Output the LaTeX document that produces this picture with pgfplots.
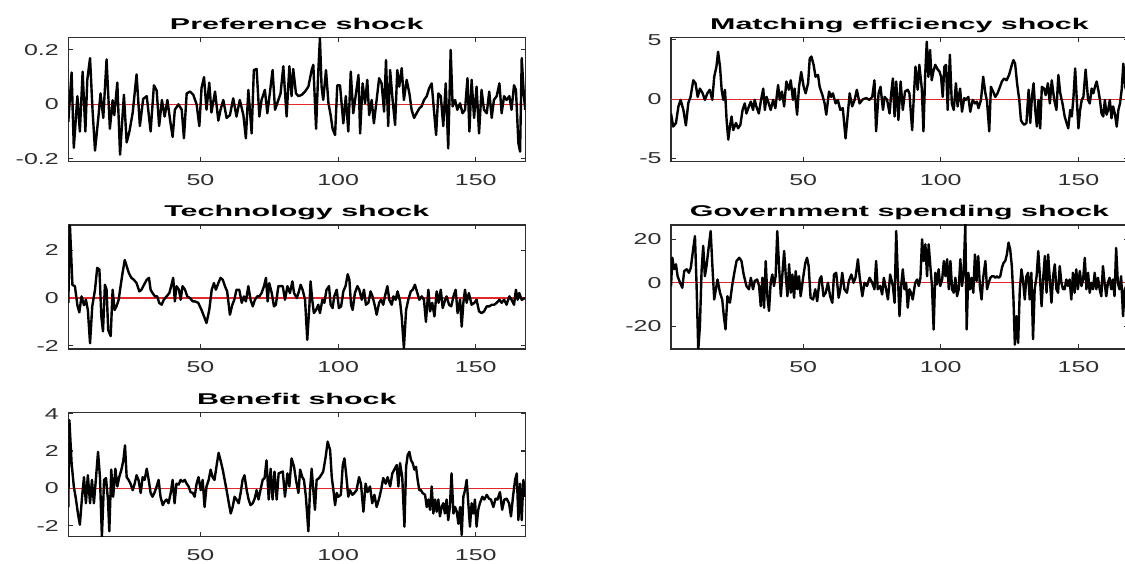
\documentclass[border=0pt]{standalone}
\usepackage{fontspec}
\usepackage{pgfplots}
\pgfplotsset{compat=1.18}
\newfontfamily\tickfont[FakeStretch=1.58]{Liberation Sans}
\newfontfamily\titlefont[FakeStretch=1.95]{Liberation Sans}
\definecolor{axgray}{gray}{0.18}
\definecolor{zred}{RGB}{228,40,40}
\pgfplotsset{
 shockax/.style={
  scale only axis, width=457pt, height=124pt, anchor=south west,
  xmin=2, xmax=168, xtick={50,100,150},
  tick align=inside, major tick length=4.5pt,
  axis line style={axgray, line width=1.1pt},
  every tick/.style={axgray, line width=1.1pt},
  ticklabel style={font=\fontsize{15.8}{18}\selectfont\tickfont, text=axgray},
  /pgf/number format/assume math mode=true,
  xticklabel style={yshift=-9pt},
  yticklabel style={xshift=-6pt},
  title style={font=\fontsize{15.6}{18}\selectfont\titlefont\bfseries, at={(0.5,1)}, anchor=base, yshift=2pt},
 },
 zline/.style={zred, line width=1.4pt, forget plot},
 sline/.style={black, line width=2.4pt, line join=round},
}
\begin{document}
\begin{tikzpicture}
% Preference shock
\begin{axis}[shockax, at={(68.3pt,402.3pt)}, ymin=-0.211, ymax=0.245, ytick={-0.2,0,0.2}, title={Preference shock}]
\addplot[zline] coordinates {(2,0) (168,0)};
\addplot[sline] coordinates {
(2,-0.064) (3.2,0.117) (4,-0.16) (5.3,0.03) (6.2,-0.10) (7.2,0.12) (8.2,-0.10) (8.9,0.09) (9.9,0.17) (10.8,-0.02) (11.7,-0.17) (12.9,-0.05) (13.7,0.04) (14.7,-0.05) (15.9,0.165) (17.1,-0.09) (18.1,0.015) (18.7,-0.04) (19.8,0.08) (20.8,-0.185) (22.2,0.035) (23.2,-0.14) (24.2,-0.10) (25.4,-0.03) (26.8,0.11) (28,-0.08) (29.2,0.02) (30.5,0.03) (31.9,-0.10) (33.1,0.07) (34.1,0.05) (35,-0.08) (36,0.016) (37,-0.045) (38,0.016) (39,-0.06) (39.9,-0.12) (40.7,-0.02) (42,0.00) (43.2,-0.02) (44,-0.125) (45,0.04) (46.2,0.047) (47.4,0.035) (48.6,0.0) (49.6,-0.08) (50.4,0.06) (51.3,0.10) (52.2,-0.02) (53.2,0.08) (54,-0.03) (55.3,0.047) (56.5,-0.06) (57.3,-0.02) (58.3,0.016) (59.5,-0.05) (60.7,-0.04) (61.9,0.022) (63.1,-0.045) (64.3,0.016) (65.6,-0.04) (66.5,-0.125) (67.4,0.053) (68.6,-0.107) (69.4,0.126) (70.4,0.13) (71.4,-0.045) (72.2,0.016) (73.4,0.053) (74.3,-0.033) (75.2,0.04) (76.2,0.126) (77.1,-0.02) (78.3,0.016) (79.1,0.04)
(80.1,0.14) (81.3,-0.045) (82.3,0.14) (83.1,0.03) (83.7,0.13) (84.7,0.04) (85.6,0.03) (86.8,0.035) (88,0.047) (89.2,0.065) (90.4,0.126) (91,0.145) (92,-0.09) (92.8,0.12) (93.4,0.243) (94,0.065) (94.6,0.016) (95.6,0.126) (96.5,0.004) (97.3,-0.04) (98,-0.09) (98.9,-0.113) (99.7,0.07) (100.7,0.07) (101.9,-0.07) (102.8,0.03) (103.7,-0.10) (104.6,0.12) (105.5,-0.033) (106.5,0.04) (107.4,0.108) (108,-0.107) (108.9,0.077) (109.8,0.004) (110.6,0.09) (111.3,-0.04) (112.2,0.016) (113,-0.07) (114,0.016) (114.9,0.096) (115.8,0.077) (116.7,-0.027) (117.4,0.163) (118.2,-0.08) (118.9,0.126) (119.8,0.016) (120.7,-0.076) (121.5,0.126) (122.2,0.065) (123.1,0.133) (123.9,0.016) (124.9,0.09) (125.9,0.04) (126.7,-0.02) (127.6,-0.05) (128.5,-0.033) (129.5,-0.015) (130.3,-0.008) (131.2,0.016) (132.2,0.03) (133.1,0.06) (134,0.077) (134.8,-0.02) (135.6,-0.113) (136.4,0.04) (137.3,0.03) (138.2,-0.08) (139.1,0.077) (140,-0.162) (140.9,0.2) (141.6,-0.008) (142.5,0.016) (143.3,-0.02) (144.3,0.004) (145.2,-0.033) (146.1,-0.02) (147,0.096) (147.7,-0.10) (148.5,0.09) (149.4,-0.05) (150.3,0.065) (151.2,-0.107) (152.1,0.053) (153,-0.02) (154,-0.033) (154.9,0.047) (155.8,-0.05) (156.6,0.016) (157.6,0.03) (158.6,0.077) (159.4,-0.033) (160.3,0.03) (161.2,0.016) (162.2,0.03) (163,-0.02) (163.9,0.07) (164.6,0.053) (165.5,-0.144) (166.1,-0.174) (166.7,0.17) (167.5,0.03) (168,-0.02)
};
\end{axis}
% Matching efficiency shock
\begin{axis}[shockax, at={(671pt,402.3pt)}, ymin=-5.26, ymax=5.19, ytick={-5,0,5}, title={Matching efficiency shock}]
\addplot[zline] coordinates {(2,0) (168,0)};
\addplot[sline] coordinates {
(2,-1.2) (2.8,-2.3) (3.8,-2.0) (4.7,-0.6) (5.5,-0.05) (6.5,-0.9) (7.4,-2.2) (8.3,-0.3) (9.1,0.2) (10.1,1.6) (10.9,1.35) (11.7,0.2) (12.5,0.9) (13.5,0.5) (14.3,-0.05) (15.2,0.5) (16.1,0.8) (17,-0.05) (17.7,1.9) (18.5,2.75) (19.1,4.0) (19.8,2.75) (20.4,0.8) (21,-0.05) (21.6,0.8) (22.2,-1.75) (22.8,-3.4) (23.4,-2.3) (24,-1.45) (24.6,-2.6) (25.6,-2.0) (26.4,-2.45) (27.2,-2.15) (28,-0.9) (28.8,-0.35) (29.4,-1.2) (30.3,-0.6) (31,-0.2) (31.8,-0.9) (32.4,-0.05) (33,-0.6) (33.9,-1.2) (34.6,-0.2) (35.5,0.9) (36.1,-0.9) (36.7,0.2) (37.5,-0.35) (38.2,-0.9) (39.1,-0.05) (39.9,-0.75) (40.9,1.2) (41.5,-0.05) (42.3,0.65) (43.1,-0.6) (43.9,1.5) (44.8,0.8) (45.5,1.6) (46.3,-0.05) (46.9,0.9) (47.8,-1.3) (48.5,1.05) (49.3,2.3) (50.2,1.05) (50.9,0.5) (51.8,1.35) (52.4,3.45) (53,3.6) (53.8,2.9) (54.5,1.9) (55.4,2.05) (56,1.05) (57,0.35) (57.8,-0.35) (58.4,-1.3) (59.4,0.65) (60.2,0.2) (60.8,0.5) (61.8,-0.35) (62.6,-0.05) (63.5,-0.9) (64.4,-0.75) (65.4,-3.3) (66.3,-1.05) (66.9,0.5) (67.8,-0.6) (68.7,-0.05) (69.5,0.8) (70.5,-0.35)
(71.7,0) (72.9,0.1) (74.1,-0.05) (75.1,0.2) (75.9,1.6) (76.5,-2.7) (77.4,0.5) (78.1,1.05) (79,-0.9) (79.6,0.2) (80.5,-0.05) (81.4,-1.2) (82,0.5) (82.6,1.75) (83.2,-1.45) (83.8,1.5) (84.6,-1.75) (85.4,1.5) (86.2,-0.9) (87,0.65) (88,0.8) (88.6,0.5) (89.6,-2.6) (90.2,0.2) (90.8,2.75) (91.6,0.8) (92.2,2.9) (93.1,0.9) (93.7,-2.7) (94.3,1.9) (94.9,4.85) (95.5,1.9) (96.1,4.15) (96.7,1.6) (97.3,2.35) (98,2.9) (98.9,2.5) (99.5,2.35) (100.1,1.9) (100.7,0.2) (101.3,2.75) (101.9,2.9) (102.5,-0.9) (103.3,3.75) (104,-0.35) (104.7,-0.9) (105.5,1.35) (106.1,-0.6) (107,0.9) (107.7,-1.05) (108.5,0.1) (109.1,-0.05) (110,0.2) (110.7,-1.05) (111.6,-0.05) (112.4,-0.35) (113.1,-0.2) (113.7,-0.75) (114.6,-0.05) (115.4,1.9) (116.2,0.5) (116.8,-0.2) (117.6,-2.7) (118.2,1.05) (119,0.65) (119.8,0.2) (120.6,0.5) (121.5,1.05) (122.2,1.5) (123,1.75) (123.9,1.6) (124.8,2.05) (125.8,2.9) (126.4,3.3) (127,3.0) (127.7,1.35) (128.5,-0.05) (129.1,-1.75) (129.7,-2.0) (130.3,-2.15) (131.1,-2.0) (131.9,0.8) (132.5,-2.0) (133.1,0.2) (133.7,1.35) (134.3,-0.9) (134.9,-2.3) (135.5,-0.05) (136.1,-2.45) (136.7,1.05) (137.5,0.9) (138.1,0.35) (138.9,1.35) (139.6,-0.35) (140.3,1.6) (141.2,-0.05) (142,-0.9) (142.7,2.05) (143.4,0.5) (144.2,-0.35) (145,-1.45) (145.7,-2.0) (146.3,-2.45) (147,-0.9) (147.6,-1.45) (148.2,0.2) (148.8,2.6) (149.4,-0.05) (150,-2.45) (150.6,-0.9) (151.2,-0.05) (151.8,0.2) (152.6,2.5) (153.5,-0.05) (154.1,-0.35) (154.8,0.9) (155.4,0.5) (156,1.05) (156.6,1.5) (157.2,0.8) (157.8,-0.05) (158.4,-1.2) (159,-1.45) (159.6,-0.05) (160.2,-1.3) (160.8,-0.9) (161.4,-0.05) (162,-1.6) (162.6,-0.6) (163.3,-1.3) (163.9,-2.3) (164.5,-0.9) (165.1,-0.35) (165.7,0.8) (166.3,3.0) (167,1.0) (168,0.5)
};
\end{axis}
% Technology shock
\begin{axis}[shockax, at={(68.3pt,215pt)}, ymin=-2.14, ymax=3.07, ytick={-2,0,2}, title={Technology shock}]
\addplot[zline] coordinates {(2,0) (168,0)};
\addplot[sline] coordinates {
(2,-0.2) (2.6,3.05) (3.5,0.55) (4.4,0.5) (5.3,-0.3) (6,-0.6) (6.8,0.07) (7.7,-0.3) (8.4,-0.07) (9.1,-0.5) (9.9,-1.9) (10.7,-0.35) (11.7,0.35) (12.5,1.27) (13.3,1.2) (14,-0.77) (14.6,-1.4) (15.3,0.56) (15.9,0.35) (16.5,-1.34) (17.4,-1.6) (18.1,0.35) (18.8,-0.5) (19.5,-0.35) (20.3,-0.07) (21,0.5) (21.7,1.05) (22.5,1.6) (23.2,1.34) (24,1.05) (24.9,0.85) (25.8,0.77) (26.8,0.63) (27.8,0.28) (28.6,0.35) (29.5,0.56) (30.5,0.77) (31.3,0.85) (31.9,0.35) (32.6,0.21) (33.5,0.07) (34.3,0.07) (35,-0.2) (35.9,-0.28) (36.7,-0.07) (37.7,0.07) (38.7,0.21) (39.5,0.56) (40.1,0.85) (40.7,-0.14) (41.3,0.5) (42.2,0.35) (42.8,-0.07) (43.5,0.5) (44.4,0.35) (45.2,0.07) (46.2,0) (47.2,-0.14) (48,-0.14) (49.2,-0.2) (50.4,-0.5) (51.3,-0.77) (52.2,-1.05) (53.2,-0.5) (54.1,0.35) (54.9,0.63) (55.6,0.35) (56.5,0.63) (57.3,0.85) (58.1,0.77) (58.9,0.5) (59.7,0.28) (60.7,-0.7) (61.6,-0.28) (62.3,-0.07) (63.1,0.35) (64.1,0.35) (65,-0.2) (65.8,0.07) (66.5,-0.14) (67.4,0.5) (68.2,-0.07) (69,-0.35) (69.8,-0.07) (70.6,0.07) (71.4,0.07) (72.2,0.21) (73.1,0.5) (73.8,0.85) (74.4,-0.14) (75,0.63) (75.9,0.21) (76.7,-0.35) (77.4,-0.28) (78.3,0.5)
(79.9,0.5) (80.7,-0.07) (81.6,0.5) (82.5,0.21) (83.4,0.7) (84,0.21) (85,0) (85.6,0.21) (86.4,0.56) (87.1,0.35) (88,-0.07) (88.8,-1.76) (89.6,-0.28) (90,0.7) (90.6,-0.07) (91.2,-0.63) (92,-0.5) (92.8,-0.28) (93.4,-0.63) (94.3,-0.07) (95,-0.2) (95.8,0.35) (96.7,0.5) (97.3,-0.28) (98,-0.42) (98.6,0.07) (99.5,0.35) (100.3,-0.42) (101.1,-0.35) (101.9,0.28) (102.7,0.5) (103.5,1.0) (104.1,0.77) (104.7,-0.28) (105.3,-0.5) (106.1,0.21) (107,0.5) (107.7,0.35) (108.6,-0.07) (109.4,0.35) (110.1,-0.28) (111,-0.2) (111.8,0.28) (112.5,0.07) (113.4,-0.35) (114,-0.7) (114.9,-0.2) (115.6,-0.07) (116.4,-0.28) (117,0.07) (117.9,0.5) (118.6,-0.07) (119.5,-0.28) (120.1,0.07) (120.9,-0.07) (121.6,0.28) (122.5,-0.14) (123.1,-0.77) (123.9,-2.1) (124.7,-0.5) (125.5,-0.07) (126.4,0.28) (127.1,0.35) (127.9,0.56) (128.8,0.21) (129.5,-0.07) (130.4,0.07) (131.2,-0.07) (131.9,-1.0) (132.8,0.35) (133.4,-0.56) (134.2,-0.2) (135,-0.77) (135.8,0.28) (136.5,-0.2) (137.3,0.35) (138,-0.42) (138.9,-0.07) (139.4,0.07) (140.3,-0.28) (141.1,-0.35) (141.9,0.07) (142.7,0.35) (143.4,-0.63) (144.3,-0.07) (144.9,-1.2) (145.5,-0.2) (146.1,0.35) (146.7,-0.2) (147.5,0.21) (148.5,-0.28) (149.5,-0.2) (150.3,-0.07) (151.2,-0.56) (152.1,-0.63) (153,-0.56) (154,-0.35) (154.9,-0.35) (155.8,-0.28) (156.7,-0.28) (157.6,-0.2) (158.6,-0.07) (159.4,-0.2) (160.3,-0.07) (161.2,-0.28) (162.2,0.07) (163,-0.07) (163.9,-0.28) (164.6,0.35) (165.2,-0.07) (165.8,0.21) (166.7,-0.07) (167.9,0)
};
\end{axis}
% Government spending shock
\begin{axis}[shockax, at={(671pt,215pt)}, ymin=-30.5, ymax=26.6, ytick={-20,0,20}, title={Government spending shock}]
\addplot[zline] coordinates {(2,0) (168,0)};
\addplot[sline] coordinates {
(2,-1.5) (2.5,11.5) (3.1,6.2) (3.8,8.5) (4.4,3) (5.3,0) (6.1,-2.3) (6.8,5.4) (7.7,6.2) (8.5,4.6) (9.2,6.9) (10.1,16) (10.7,21.5) (11.3,-1.5) (11.9,-31) (12.5,-20) (13.1,5.4) (13.7,17) (14.3,3) (14.9,7.7) (15.6,15.4) (16.4,23.8) (17.1,6.2) (17.7,-7.7) (18.3,-3) (18.9,1.5) (19.8,-4.6) (20.6,-7.7) (21.2,-15.4) (21.8,-21.5) (22.5,-6.2) (23.4,-9.2) (24.2,-1.5) (25,4.6) (25.8,10) (26.8,11.5) (27.6,10) (28.4,3.8) (29.4,-1.5) (30.3,-3) (31,2.3) (31.8,-3) (32.4,0.8) (33.3,1.5) (34,-1.5) (34.6,-10.8) (35.2,2.3) (35.8,-11.5) (36.4,10) (37,-6.2) (37.6,-13) (38.2,0) (38.8,3.8) (39.4,-1.5) (40,3) (40.6,23.8) (41.3,6.2) (41.9,-6.2) (42.5,4.6) (43.1,14.6) (43.7,3) (44.3,-6.2) (44.9,8.5) (45.5,-4.6) (46.1,3.8) (46.7,-6.9) (47.3,5.4) (47.9,-3) (48.5,3) (49.1,-6.2) (49.9,1.5) (50.8,9.2) (51.4,11.5) (52,7.7) (52.7,-6.9) (53.6,-7.7) (54.4,-3) (55.1,-8.5) (56,1.5) (56.6,3) (57.4,-6.2) (58.2,-4.6) (59,0) (59.8,-6.2) (60.6,-9.2) (61.2,3.8) (62,4.6) (62.9,-6.9) (63.5,-3) (64.2,4.6) (65,-3) (65.9,-4.6) (66.6,0.8) (67.5,3.8) (68.3,0) (69,2.3) (69.9,10.8) (70.5,3)
(71.5,-6.2) (72.3,0) (73.2,-1.5) (74.1,2.3) (75.1,0) (75.9,-3) (76.5,10) (77.1,-3) (78,-1.5) (78.7,-5.4) (79.3,2.3) (79.9,-1.5) (80.8,-7.7) (81.6,3.8) (82.6,-1.5) (83.2,-9.2) (83.8,23.8) (84.4,3) (85,-15.4) (85.6,-1.5) (86.2,6.2) (86.8,-3) (87.4,0) (88,-11.5) (88.6,-3) (89.2,-4.6) (89.8,-7.7) (90.7,0) (91.4,1.5) (92,-1.5) (92.6,2.3) (93.2,20) (93.8,10) (94.4,17.7) (95,3) (95.6,17.7) (96.2,7.7) (96.8,-1.5) (97.4,-21.5) (98,4.6) (98.6,-0.8) (99.2,6.2) (99.8,-1.5) (100.5,1.5) (101.1,10) (101.7,3) (102.3,10.8) (102.9,-3) (103.5,10) (104.1,-3) (104.7,-4.6) (105.3,2.3) (105.9,-6.2) (106.5,-3) (107.1,10.8) (107.7,-1.5) (108.3,4.6) (108.9,27) (109.4,-21.5) (110,4.6) (110.6,-3) (111.2,2.3) (111.8,-4.6) (112.4,13) (113,0.8) (113.6,12.3) (114.2,-1.5) (114.8,-7.7) (115.4,2.3) (116.2,10) (116.8,-3) (117.4,0) (118,2.3) (118.6,3) (119.2,3) (119.8,2.3) (120.4,3) (121,2.3) (121.6,3) (122.2,6.9) (122.8,9.2) (123.4,10) (124,13) (124.6,18.5) (125.2,15.4) (125.8,7.7) (126.4,-7.7) (126.9,-28.5) (127.5,-15.4) (128.1,-27.7) (128.7,-3) (129.3,6.2) (129.9,0.8) (130.5,-7.7) (131.1,3) (131.7,4.6) (132.3,-7.7) (132.9,4.6) (133.5,-26) (134.1,-3) (134.8,3) (135.4,14.6) (136,3) (136.6,-10.8) (137.2,2.3) (137.8,12.3) (138.4,-4.6) (139,13) (139.6,1.5) (140.2,-9.2) (140.8,3) (141.4,8.5) (142,-3) (142.6,-4.6) (143.2,7.7) (143.8,0) (144.4,-3) (145,-3) (145.6,1.5) (146.2,-1.5) (146.8,1.5) (147.4,-7.7) (148,4.6) (148.6,-4.6) (149.2,6.2) (149.8,-3) (150.5,5.4) (151.1,-1.5) (151.7,1.5) (152.3,11.5) (152.9,-3) (153.5,4.6) (154.1,-4.6) (154.7,0) (155.3,-3) (155.9,4.6) (156.5,-3) (157.1,2.3) (157.7,-3) (158.3,-6.2) (158.9,7.7) (159.5,0) (160.1,-6.2) (160.7,0) (161.3,2.3) (161.9,-3) (162.5,1.5) (163.1,-6.2) (163.7,16) (164.3,0) (164.9,-3) (165.5,3) (166.2,-15.4) (166.8,-3) (168,0)
};
\end{axis}
% Benefit shock
\begin{axis}[shockax, at={(68.3pt,27.3pt)}, ymin=-2.59, ymax=4.05, ytick={-2,0,2,4}, title={Benefit shock}]
\addplot[zline] coordinates {(2,0) (168,0)};
\addplot[sline] coordinates {
(2,-1.0) (2.4,3.65) (3.2,1.35) (4,0.1) (4.8,-0.6) (5.5,-1.35) (6.2,-1.95) (7,-0.45) (7.7,0.6) (8.4,-0.8) (9.1,0.7) (9.9,-0.8) (10.6,0.45) (11.3,-0.8) (12,0.45) (12.8,1.95) (13.5,0.6) (14.2,-2.6) (15,0.45) (15.7,0.55) (16.4,-0.6) (16.9,-2.3) (17.6,1.0) (18.3,-0.45) (19.1,1.05) (19.8,0.1) (20.5,0.6) (21.3,1.0) (22,1.5) (22.6,2.3) (23.2,0.6) (23.9,0.45) (24.6,0.25) (25.4,-0.1) (26.1,0.25) (26.8,0.7) (27.5,0.45) (28.3,-0.25) (29,0.6) (29.7,0.45) (30.5,1.05) (31.2,0.45) (31.9,-0.25) (32.6,-0.45) (33.4,-0.2) (34.1,0.1) (34.8,0.45) (35.5,-0.45) (36.3,-0.9) (37,-0.7) (37.7,-0.6) (38.4,-0.8) (39.2,-0.25) (39.9,0.45) (40.6,-0.8) (41.3,0.25) (42.1,0.2) (42.8,0.45) (43.5,0.35) (44.3,0.45) (45,0.25) (45.7,0.1) (46.4,-0.2) (47.2,-0.25) (47.9,-0.45) (48.6,0.25) (49.3,0.6) (50.1,-0.1) (50.8,0.45) (51.5,-1.0) (52.2,0.1) (53,0.45) (53.7,1.0) (54.4,0.6) (55.1,0.45) (55.9,1.25) (56.6,1.9) (57.3,1.5) (58.1,1.0) (58.8,0.45) (59.5,-0.1) (60.2,-0.7) (61,-1.35) (61.7,-1.0) (62.4,-0.45) (63.1,-0.6) (63.9,-0.8) (64.6,-0.25) (65.3,0.45) (66,0.7) (66.8,-0.1) (67.5,-0.6) (68.2,-0.9) (69,-0.8) (69.7,-0.55) (70.4,-0.1) (71.1,-0.6) (71.8,-0.1) (72.6,0.45) (73.3,0.55) (74,1.5) (74.8,-0.6) (75.5,1.05) (76.2,-0.6) (76.9,0.9) (77.7,-0.6) (78.4,0.8)
(79.9,0.9) (80.7,-0.45) (81.6,0.8) (82.3,0.1) (83.1,1.6) (84,1.15) (84.7,0.45) (85.6,-0.25) (86.2,1.0) (87,0.6) (87.6,0.45) (88.3,-0.45) (89.2,-2.3) (89.8,-0.1) (90.4,1.05) (91,-0.1) (91.6,-1.15) (92.2,0.45) (93.1,0.55) (93.8,0.7) (94.6,0.9) (95.5,1.7) (96.2,2.5) (97.1,2.05) (97.7,0.6) (98.3,-0.1) (98.9,-0.9) (99.5,-0.25) (100.1,-0.45) (101,-0.35) (101.7,1.25) (102.3,1.6) (102.9,0.8) (103.7,-0.45) (104.3,-0.1) (105.2,-0.35) (105.9,-0.25) (106.7,-0.1) (107.6,0.6) (108.3,0.25) (109.2,-1.25) (110,0.25) (110.7,-0.2) (111.6,0.1) (112.4,-0.8) (113.2,-0.35) (114,-1.0) (114.9,-0.55) (115.6,-0.1) (116.4,0.55) (117.3,0.25) (118,0.6) (118.9,0.1) (119.7,0.8) (120.4,1.0) (121.3,1.25) (121.9,0.1) (122.5,1.35) (123.3,0.6) (124.1,-2.05) (124.7,1.15) (125.3,1.8) (125.9,1.95) (126.5,1.5) (127.1,1.35) (127.7,1.0) (128.3,1.15) (128.9,0.45) (129.5,-0.1) (130.1,-0.1) (130.7,-0.25) (131.6,-0.35) (132.2,-1.0) (132.8,-0.6) (133.4,-1.15) (134,0.1) (134.6,-1.35) (135.2,-0.6) (135.8,-1.25) (136.4,-0.6) (137,-1.5) (137.6,-1.0) (138.2,-0.8) (138.8,-1.35) (139.4,-0.6) (140,-1.7) (140.6,-1.0) (141.2,0.8) (141.9,-1.35) (142.5,-1.0) (143.1,-1.25) (143.7,-1.9) (144.3,-1.0) (144.9,-2.5) (145.5,-0.45) (146.1,-0.1) (146.7,0.45) (147.3,-0.8) (147.9,-2.05) (148.5,-0.8) (149.1,-1.35) (149.7,-0.6) (150.3,-2.05) (150.9,-1.15) (151.5,-0.8) (152.4,-0.45) (153.1,-0.6) (154,-0.35) (154.8,-0.55) (155.5,-0.6) (156.4,-1.0) (157.2,-0.55) (157.9,-0.6) (158.8,-0.2) (159.6,-1.15) (160.4,-0.6) (161.2,-0.55) (162.1,-0.8) (162.8,-1.5) (163.6,-0.35) (164.3,0.45) (164.9,0.8) (165.5,-1.7) (166.1,0.25) (166.7,-1.7) (167.3,0.45) (168,-0.45)
};
\end{axis}
\pgfresetboundingbox
\path[use as bounding box] (0,0) rectangle (1125pt,564pt);
\end{tikzpicture}
\end{document}
